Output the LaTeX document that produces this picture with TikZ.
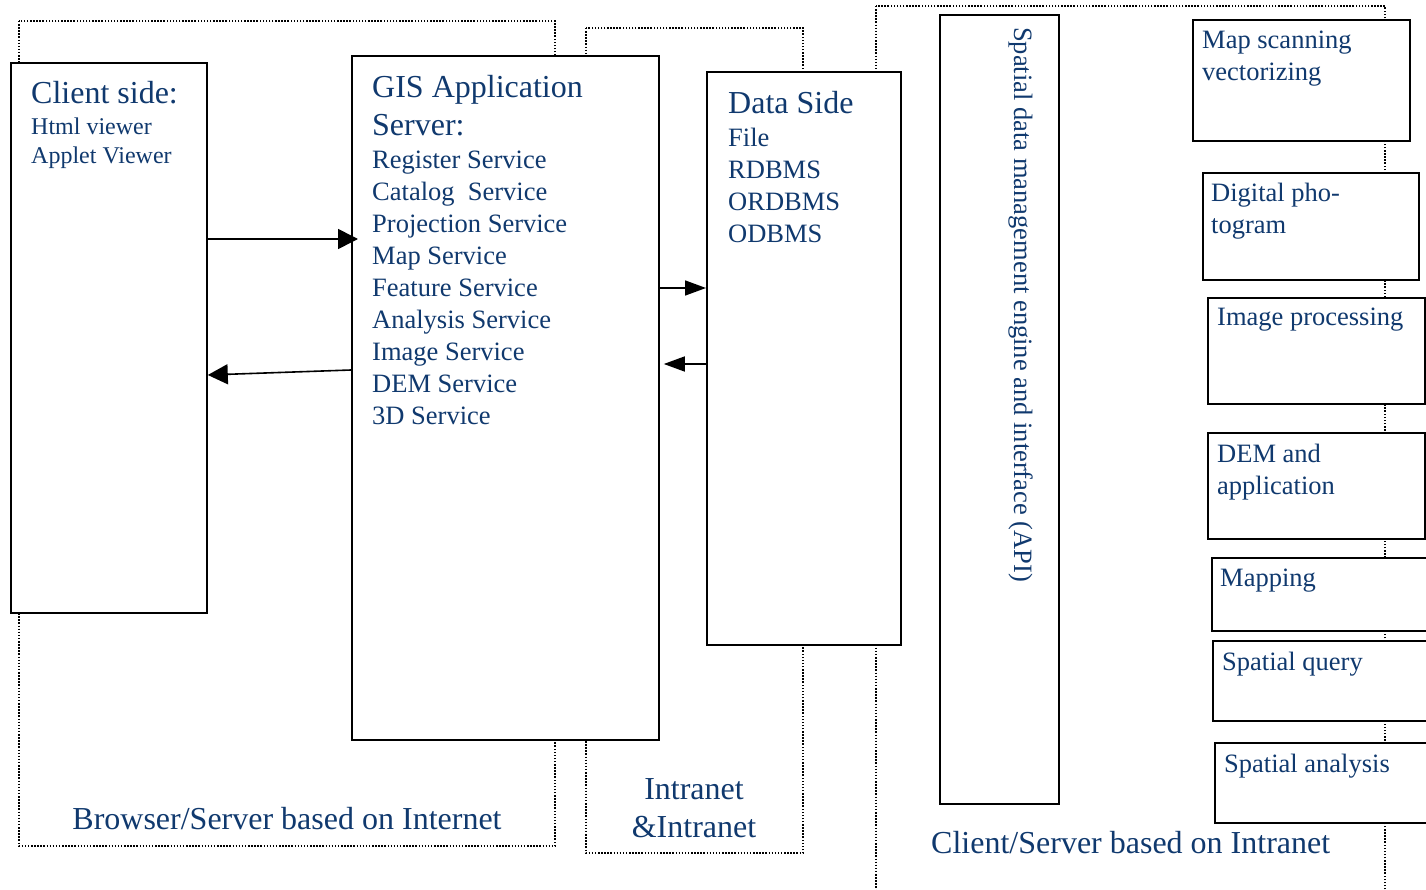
\documentclass[tikz,border=0pt]{standalone}
\usepackage{fontspec}
\setmainfont{Liberation Serif}
\usetikzlibrary{arrows.meta}
\definecolor{txtblue}{RGB}{16,57,110}
\newcommand\stack[2][l]{\begin{tabular}[t]{@{}#1@{}}#2\end{tabular}}
\newcommand\fsz[2]{\fontsize{#1}{#2}\selectfont}

\begin{document}
\begin{tikzpicture}[x=1pt,y=-1pt,
  box/.style={draw=black, line width=1.8pt, fill=white, anchor=north west,
    inner sep=0pt, minimum width=#1},
  zone/.style={draw=black, line width=1.6pt, dash pattern=on 1.5pt off 1.6pt},
  txt/.style={text=txtblue, inner sep=0pt, anchor=base west},
  title/.style={txt, font=\fsz{32}{38}},
  body/.style={txt, font=\fsz{26.5}{32}},
  small/.style={txt, font=\fsz{24}{29}},
  link/.style={draw=black, line width=1.6pt,
    -{Triangle[length=20pt, width=20pt]}},
  shortlink/.style={draw=black, line width=1.6pt,
    -{Triangle[length=21pt, width=15pt]}},
]
\clip (0,0) rectangle (1426,890);

% dotted network zones
\path[zone] (19,21) rectangle (555,846);
\path[zone] (586,28) rectangle (803,853);
\path[zone] (876,6) rectangle (1385,900);

% main tiers
\node[box=196pt, minimum height=550pt] (client) at (10,62) {};
\node[box=307pt, minimum height=684pt] (gis) at (351,55) {};
\node[box=194pt, minimum height=573pt] (data) at (706,71) {};
\node[box=119pt, minimum height=789pt] (api) at (939,14) {};

% desktop GIS modules
\node[box=217pt, minimum height=121pt] (scan) at (1192,19) {};
\node[box=216pt, minimum height=107pt] (photo) at (1202,172) {};
\node[box=217pt, minimum height=106pt] (image) at (1207,297) {};
\node[box=217pt, minimum height=106pt] (dem) at (1207,432) {};
\node[box=240pt, minimum height=73pt] (mapping) at (1211,557) {};
\node[box=240pt, minimum height=80pt] (query) at (1212,640) {};
\node[box=240pt, minimum height=80pt] (analysis) at (1214,742) {};

% tier contents
\node[title] (clientT) at (31,104) {Client side:};
\node[small] (clientL) at (31,135) {\stack{Html viewer\\Applet Viewer}};
\node[title] (gisT) at (372,98) {\stack{GIS Application\\Server:}};
\node[body] (gisL) at (372,169) {\stack{Register Service\\Catalog\ \ Service\\
  Projection Service\\Map Service\\Feature Service\\Analysis Service\\
  Image Service\\DEM Service\\3D Service}};
\node[title] (dataT) at (728,114) {Data Side};
\node[body] (dataL) at (728,147) {\stack{File\\RDBMS\\ORDBMS\\ODBMS}};
\node[body, rotate=-90] (apiT) at (1014,27)
  {Spatial data management engine and interface (API)};

\node[body] at (1202,49) {\stack{Map scanning\\vectorizing}};
\node[body] at (1211,202) {\stack{Digital pho-\\togram}};
\node[body] at (1217,326) {Image processing};
\node[body] at (1217,462) {\stack{DEM and\\application}};
\node[body] at (1220,586) {Mapping};
\node[body] at (1222,670) {Spatial query};
\node[body] at (1224,772) {Spatial analysis};

% zone captions
\node[title, anchor=base] (z1) at (287,829) {Browser/Server based on Internet};
\node[title, anchor=base] (z2) at (694,799) {\stack[c]{Intranet\\\&Intranet}};
\node[title] (z3) at (931,853) {Client/Server based on Intranet};

% request / response flows
\draw[link] ([yshift=-177pt]client.north east) -- ([xshift=7pt,yshift=-184pt]gis.north west);
\draw[link] ([yshift=-315pt]gis.north west) -- ([yshift=-313pt]client.north east);
\draw[shortlink] ([yshift=-233pt]gis.north east) -- ([yshift=-217pt]data.north west);
\draw[shortlink] ([yshift=-293pt]data.north west) -- ([xshift=4pt,yshift=-309pt]gis.north east);
\end{tikzpicture}
\end{document}
